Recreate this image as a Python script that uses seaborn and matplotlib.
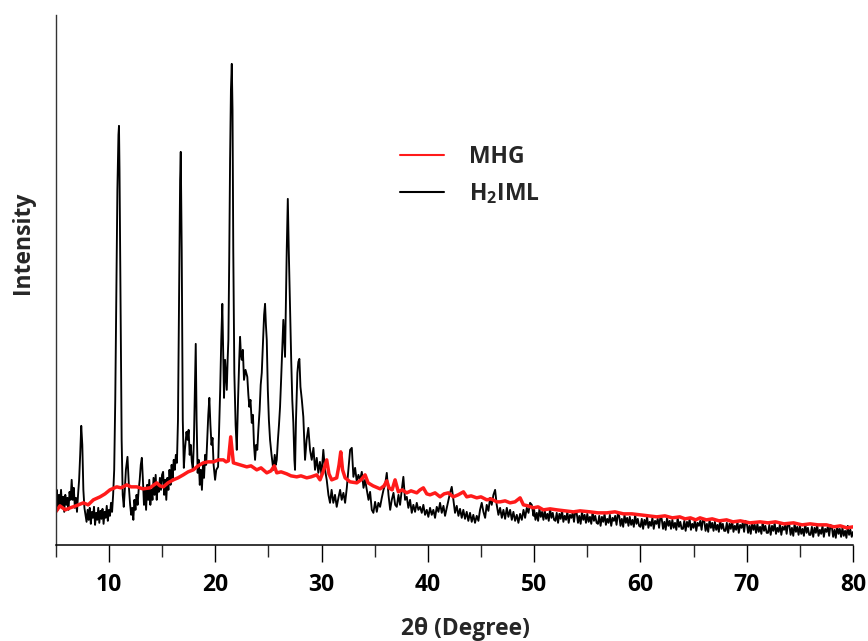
import numpy as np
import matplotlib
matplotlib.use('Agg')
import matplotlib.pyplot as plt
from matplotlib.ticker import MultipleLocator
import pandas as pd
import seaborn as sns

# H2IML (black) pattern: 2theta (deg) and intensity (a.u.)
h2iml_2theta = [
    5.0, 5.1, 5.2, 5.3, 5.4, 5.5, 5.6, 5.7, 5.8, 5.9, 6.0, 6.1, 6.2, 6.3, 6.4, 6.5, 6.6, 6.7, 6.8, 6.9,
    7.0, 7.1, 7.2, 7.3, 7.4, 7.5, 7.6, 7.7, 7.8, 7.9, 8.0, 8.1, 8.2, 8.3, 8.4, 8.5, 8.6, 8.7, 8.8, 8.9,
    9.0, 9.1, 9.2, 9.3, 9.4, 9.5, 9.6, 9.7, 9.8, 9.9, 10.0, 10.1, 10.2, 10.3, 10.4, 10.5, 10.6, 10.7, 10.8, 10.9,
    10.95, 11.0, 11.1, 11.2, 11.3, 11.4, 11.5, 11.6, 11.75, 11.9, 12.0, 12.1, 12.2, 12.3, 12.4, 12.5, 12.6, 12.7, 12.8, 12.9,
    13.0, 13.1, 13.2, 13.3, 13.4, 13.5, 13.6, 13.7, 13.8, 13.9, 14.0, 14.1, 14.2, 14.3, 14.4, 14.5, 14.6, 14.7, 14.8, 14.9,
    15.0, 15.1, 15.2, 15.3, 15.4, 15.5, 15.6, 15.7, 15.8, 15.9, 16.0, 16.1, 16.2, 16.3, 16.4, 16.5, 16.6, 16.7, 16.76, 16.85,
    16.95, 17.05, 17.15, 17.3, 17.4, 17.5, 17.6, 17.7, 17.8, 17.9, 18.0, 18.1, 18.17, 18.25, 18.35, 18.45, 18.55, 18.65, 18.75, 18.85,
    18.95, 19.05, 19.15, 19.25, 19.35, 19.45, 19.55, 19.65, 19.75, 19.85, 19.99, 20.1, 20.27, 20.37, 20.47, 20.57, 20.67, 20.75, 20.83, 20.93,
    21.01, 21.09, 21.17, 21.24, 21.32, 21.4, 21.48, 21.56, 21.63, 21.7, 21.8, 21.92, 22.03, 22.15, 22.26, 22.34, 22.42, 22.5, 22.6, 22.71,
    22.85, 23.02, 23.12, 23.21, 23.32, 23.44, 23.55, 23.65, 23.75, 23.85, 23.96, 24.06, 24.18, 24.28, 24.38, 24.5, 24.6, 24.69, 24.77, 24.85,
    24.95, 25.05, 25.16, 25.3, 25.47, 25.6, 25.7, 25.79, 25.9, 26.0, 26.1, 26.2, 26.3, 26.41, 26.5, 26.57, 26.65, 26.73, 26.83, 26.92,
    27.04, 27.15, 27.25, 27.35, 27.45, 27.51, 27.6, 27.73, 27.82, 27.92, 28.02, 28.15, 28.29, 28.45, 28.6, 28.76, 28.92, 29.08, 29.24, 29.39,
    29.55, 29.7, 29.85, 30.0, 30.17, 30.33, 30.49, 30.65, 30.8, 30.95, 31.11, 31.27, 31.43, 31.59, 31.75, 31.9, 32.06, 32.22, 32.38, 32.53,
    32.69, 32.85, 33.0, 33.16, 33.32, 33.47, 33.63, 33.79, 33.95, 34.1, 34.26, 34.42, 34.57, 34.73, 34.88, 35.04, 35.2, 35.35, 35.51, 35.67,
    35.83, 35.98, 36.14, 36.3, 36.46, 36.61, 36.77, 36.93, 37.08, 37.24, 37.39, 37.55, 37.7, 37.86, 38.02, 38.17, 38.33, 38.49, 38.64, 38.8,
    38.96, 39.11, 39.27, 39.43, 39.58, 39.74, 39.9, 40.05, 40.21, 40.37, 40.52, 40.68, 40.84, 41.0, 41.15, 41.31, 41.47, 41.62, 41.78, 41.94,
    42.09, 42.25, 42.41, 42.56, 42.72, 42.88, 43.03, 43.19, 43.34, 43.5, 43.66, 43.81, 43.97, 44.13, 44.28, 44.44, 44.6, 44.76, 44.91, 45.07,
    45.23, 45.39, 45.54, 45.7, 45.86, 46.01, 46.17, 46.33, 46.48, 46.64, 46.8, 46.96, 47.11, 47.27, 47.43, 47.58, 47.74, 47.9, 48.05, 48.21,
    48.37, 48.52, 48.68, 48.84, 49.0, 49.15, 49.31, 49.47, 49.62, 49.78, 49.94,
]
h2iml_counts = [
    45, 55, 35, 50, 40, 55, 37, 48, 33, 50, 40, 47, 35, 53, 45, 65, 45, 57, 37, 47,
    33, 50, 65, 90, 119, 100, 55, 37, 30, 23, 35, 25, 37, 21, 33, 27, 38, 20, 32, 25,
    37, 22, 34, 26, 36, 21, 33, 27, 39, 24, 35, 29, 42, 33, 50, 75, 145, 245, 355, 410,
    419, 375, 245, 105, 50, 38, 55, 75, 88, 55, 40, 30, 37, 25, 45, 35, 50, 40, 55, 65,
    80, 87, 65, 40, 55, 35, 60, 45, 65, 40, 55, 45, 67, 50, 70, 45, 60, 53, 67, 55,
    70, 73, 50, 65, 45, 67, 55, 75, 60, 80, 67, 85, 75, 90, 82, 125, 245, 365, 393, 295,
    125, 77, 95, 113, 105, 115, 90, 100, 83, 75, 105, 165, 201, 125, 72, 85, 60, 75, 55, 80,
    67, 90, 80, 105, 130, 147, 120, 100, 107, 80, 65, 75, 78, 115, 155, 205, 241, 195, 147, 185,
    170, 155, 185, 205, 285, 385, 455, 481, 435, 295, 172, 120, 95, 145, 185, 208, 190, 185, 195, 165,
    175, 168, 150, 138, 145, 122, 130, 100, 85, 100, 95, 115, 135, 160, 172, 205, 230, 241, 220, 205,
    155, 125, 105, 90, 75, 90, 80, 85, 105, 120, 138, 165, 195, 225, 205, 188, 242, 295, 346, 295,
    238, 185, 145, 122, 85, 75, 125, 172, 183, 186, 158, 145, 128, 85, 105, 117, 95, 85, 97, 75,
    87, 72, 83, 70, 95, 75, 65, 50, 42, 55, 42, 50, 38, 47, 55, 45, 52, 42, 57, 75,
    95, 97, 68, 77, 63, 70, 65, 73, 57, 65, 55, 45, 53, 35, 32, 43, 33, 42, 38, 47,
    55, 60, 72, 50, 35, 45, 52, 40, 38, 50, 40, 55, 68, 45, 48, 37, 45, 32, 40, 33,
    42, 35, 38, 32, 40, 30, 35, 28, 37, 30, 35, 27, 38, 33, 42, 32, 39, 29, 37, 45,
    52, 58, 45, 32, 39, 29, 36, 27, 35, 26, 33, 24, 32, 23, 30, 22, 29, 24, 35, 42,
    33, 27, 40, 34, 47, 40, 50, 55, 40, 30, 37, 27, 35, 26, 37, 28, 35, 25, 33, 24,
    30, 22, 31, 25, 35, 27, 37, 32, 42, 40, 29,
]

# H2IML high-angle tail, scanned on a 0.125 deg step from 50 deg
tail_start, tail_step = 50.0, 0.125
h2iml_tail_counts = [
    35, 25, 32, 24, 36, 28, 33, 25, 34, 26, 31, 24, 36, 27, 32, 25,
    24, 32, 22, 31, 26, 34, 23, 29, 25, 33, 22, 30, 27, 32, 23, 34,
    32, 22, 29, 21, 33, 25, 30, 22, 31, 23, 28, 21, 33, 24, 29, 22,
    21, 29, 19, 28, 23, 31, 20, 26, 22, 30, 19, 27, 24, 29, 20, 31,
    29, 19, 26, 18, 30, 22, 27, 19, 28, 20, 25, 18, 30, 21, 26, 19,
    18, 26, 16, 25, 20, 28, 17, 23, 19, 27, 16, 24, 21, 26, 17, 28,
    26, 16, 23, 15, 27, 19, 24, 16, 25, 17, 22, 15, 27, 18, 23, 16,
    16, 24, 14, 23, 18, 26, 15, 21, 17, 25, 14, 22, 19, 24, 15, 26,
    24, 14, 21, 13, 25, 17, 22, 14, 23, 15, 20, 13, 25, 16, 21, 14,
    14, 22, 12, 21, 16, 24, 13, 19, 15, 23, 12, 20, 17, 22, 13, 24,
    22, 12, 19, 11, 23, 15, 20, 12, 21, 13, 18, 11, 23, 14, 19, 12,
    12, 20, 10, 19, 14, 22, 11, 17, 13, 21, 10, 18, 15, 20, 11, 22,
    20, 10, 17, 9, 21, 13, 18, 10, 19, 11, 16, 9, 21, 12, 17, 10,
    10, 18, 8, 17, 12, 20, 9, 15, 11, 19, 8, 16, 13, 18, 9, 20,
    18, 8, 15, 7, 19, 11, 16, 8, 17, 9, 14, 7, 19, 10, 15, 8,
    13,
]

# MHG (red) pattern
mhg_2theta = [
    5.0, 5.4, 5.9, 6.35, 6.9, 7.6, 8.05, 8.54, 9.17, 9.64, 10.1, 10.74, 11.14, 11.68, 12.08, 12.62, 13.2, 13.87, 14.5, 14.81,
    15.12, 15.56, 16.06, 16.5, 17.0, 17.45, 17.94, 18.39, 18.88, 19.33, 19.83, 20.3, 20.77, 21.02, 21.24, 21.46, 21.71, 22.34, 22.97, 23.37,
    23.91, 24.31, 24.85, 25.25, 25.56, 25.79, 26.2, 26.73, 27.13, 27.67, 28.07, 28.61, 29.02, 29.55, 29.86, 30.15, 30.49, 30.7, 30.96, 31.43,
    31.65, 31.81, 31.98, 32.22, 32.69, 33.32, 33.72, 34.1, 34.38, 34.85, 35.51, 35.88, 36.14, 36.35, 36.64, 36.92, 37.23, 37.58, 38.02, 38.42,
    38.96, 39.27, 39.58, 39.9, 40.21, 40.68, 41.15, 41.53, 41.93, 42.4, 42.85, 43.35, 43.66, 44.07, 44.6, 45.0, 45.55, 45.95, 46.49, 46.8,
    47.27, 47.74, 48.2, 48.68, 48.99, 49.43, 49.93, 50.37, 50.87, 51.5, 52.13, 52.9, 53.69, 54.32, 55.26, 56.0, 56.83, 57.6, 58.4, 59.2,
    59.97, 60.7, 61.54, 62.3, 63.0, 63.7, 64.2, 64.7, 65.2, 65.6, 66.2, 66.75, 67.4, 68.1, 68.7, 69.4, 70.3, 71.25, 72.0, 72.7,
    73.5, 74.4, 75.2, 75.96, 76.7, 77.5, 78.2, 78.8, 79.4, 80.0,
]
mhg_counts = [
    33, 39, 35, 37, 39, 42, 40, 45, 48, 51, 55, 58, 57, 60, 58, 58, 56, 57, 62, 59,
    58, 62, 65, 67, 70, 73, 75, 79, 82, 83, 83, 85, 85, 83, 84, 108, 82, 80, 78, 79,
    75, 77, 72, 74, 79, 72, 73, 71, 69, 68, 69, 67, 68, 70, 65, 73, 85, 71, 65, 67,
    80, 93, 75, 67, 63, 62, 65, 70, 62, 59, 56, 59, 64, 57, 55, 65, 53, 55, 52, 54,
    52, 55, 57, 51, 50, 52, 48, 51, 52, 48, 50, 53, 48, 49, 47, 48, 45, 46, 43, 43,
    44, 42, 43, 47, 40, 39, 37, 38, 35, 36, 35, 34, 33, 34, 33, 32, 32, 33, 31, 31,
    30, 29, 28, 29, 27, 28, 26, 27, 25, 27, 25, 26, 24, 25, 23, 24, 22, 23, 22, 23,
    21, 22, 20, 21, 20, 20, 18, 19, 17, 18,
]

legend_labels = ['MHG', 'H$_2$IML']
series_colors = {'MHG': '#ff1a1a', 'H2IML': '#000000'}

tail_2theta = tail_start + tail_step * np.arange(len(h2iml_tail_counts))
df_h = pd.DataFrame({'two_theta': np.concatenate([h2iml_2theta, tail_2theta]),
                     'intensity': np.concatenate([h2iml_counts, h2iml_tail_counts])})
df_m = pd.DataFrame({'two_theta': mhg_2theta, 'intensity': mhg_counts})

sns.set_theme(style='white')
plt.rcParams['font.family'] = ['Open Sans', 'DejaVu Sans']
plt.rcParams['mathtext.default'] = 'regular'

fig = plt.figure(figsize=(8.68, 6.41), dpi=100)
ax = fig.add_axes([0.0642, 0.150, 0.9186, 0.8268])

sns.lineplot(data=df_h, x='two_theta', y='intensity', color=series_colors['H2IML'],
             lw=1.35, estimator=None, sort=False, ax=ax)
sns.lineplot(data=df_m, x='two_theta', y='intensity', color=series_colors['MHG'],
             lw=2.5, estimator=None, sort=False, ax=ax)

ax.set_xlim(5, 80)
ax.set_ylim(0, 530)
ax.xaxis.set_major_locator(MultipleLocator(10))
ax.xaxis.set_minor_locator(MultipleLocator(5))
ax.set_yticks([])
ax.tick_params(axis='x', which='major', direction='out', length=12, width=1.0,
               bottom=True, labelsize=16.5, pad=8, colors='black')
ax.tick_params(axis='x', which='minor', direction='out', length=8.5, width=1.0, bottom=True)
for t in ax.get_xticklabels():
    t.set_fontweight('bold')

for side in ['top', 'right']:
    ax.spines[side].set_visible(False)
ax.spines['left'].set_color('#333333')
ax.spines['left'].set_linewidth(1.0)
ax.spines['bottom'].set_color('black')
ax.spines['bottom'].set_linewidth(1.1)

ax.set_xlabel('2θ (Degree)', fontsize=16.5, fontweight='bold')
ax.set_ylabel('Intensity', fontsize=16.5, fontweight='bold')
ax.xaxis.set_label_coords(0.514, -0.136)
ax.yaxis.set_label_coords(-0.026, 0.57)

handles = [plt.Line2D([], [], color=series_colors['MHG'], lw=1.5),
           plt.Line2D([], [], color=series_colors['H2IML'], lw=1.5)]
leg = ax.legend(handles, legend_labels, loc='upper left', bbox_to_anchor=(0.406, 0.794),
                frameon=False, fontsize=16.5, handlelength=1.9, handletextpad=1.1,
                labelspacing=0.55)
for t in leg.get_texts():
    t.set_fontweight('bold')

fig.savefig('out.png', dpi=100)
